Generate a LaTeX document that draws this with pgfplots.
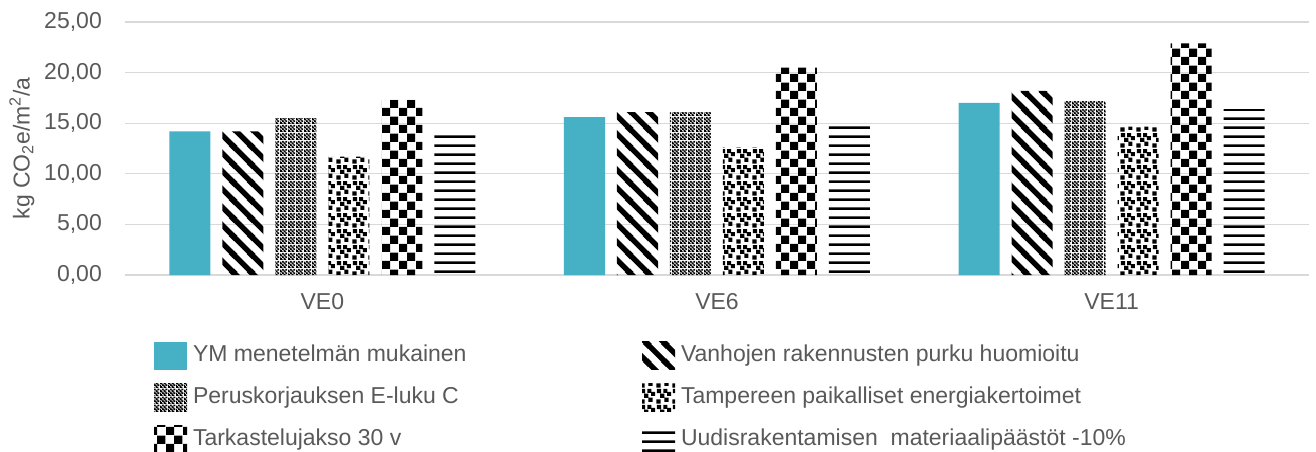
\documentclass[border=0pt]{standalone}
\usepackage{pgfplots}
\pgfplotsset{compat=1.18}
\usepackage{fontspec}
\setmainfont{Liberation Sans}
\usetikzlibrary{patterns}
\definecolor{txt}{HTML}{595959}
\definecolor{gridc}{HTML}{D9D9D9}
\definecolor{tealb}{HTML}{46B1C5}

\newcommand\sq[3]{\pgfpathrectangle{\pgfpoint{#1pt}{#2pt}}{\pgfpoint{#3pt}{#3pt}}}
% diagonal thick lines (top-left to bottom-right)
\pgfdeclarepatternformonly{mydiag}{\pgfqpoint{0pt}{0pt}}{\pgfqpoint{18pt}{18pt}}{\pgfqpoint{18pt}{18pt}}{%
  \pgfsetlinewidth{5.5pt}%
  \pgfpathmoveto{\pgfqpoint{-3pt}{21pt}}\pgfpathlineto{\pgfqpoint{21pt}{-3pt}}%
  \pgfpathmoveto{\pgfqpoint{-4pt}{4pt}}\pgfpathlineto{\pgfqpoint{4pt}{-4pt}}%
  \pgfpathmoveto{\pgfqpoint{14pt}{22pt}}\pgfpathlineto{\pgfqpoint{22pt}{14pt}}%
  \pgfusepath{stroke}}
% fine checkerboard (8x8 tile)
\pgfdeclarepatternformonly{mysmallcheck}{\pgfqpoint{0pt}{0pt}}{\pgfqpoint{8pt}{8pt}}{\pgfqpoint{8pt}{8pt}}{%
  \sq{0}{0}{2}\sq{2}{2}{2}\sq{2}{0}{1}\sq{0}{2}{1}%
  \sq{4}{0}{2}\sq{6}{2}{2}\sq{6}{0}{1}\sq{4}{2}{1}%
  \sq{0}{4}{2}\sq{2}{6}{2}\sq{2}{4}{1}\sq{0}{6}{1}%
  \sq{4}{4}{2}\sq{6}{6}{2}\sq{6}{4}{1}\sq{4}{6}{1}%
  \pgfusepath{fill}}
% confetti
\pgfdeclarepatternformonly{myconfetti}{\pgfqpoint{0pt}{0pt}}{\pgfqpoint{16pt}{16pt}}{\pgfqpoint{16pt}{16pt}}{%
  \sq{0.5}{0.5}{4.4}\sq{8.8}{2.2}{4.4}\sq{4.4}{6.4}{4.4}\sq{11.6}{8.4}{4.2}\sq{1}{11.4}{4.4}\sq{7.6}{11.6}{4.2}%
  \pgfusepath{fill}}
% large checkerboard
\pgfdeclarepatternformonly{mybigcheck}{\pgfqpoint{0pt}{0pt}}{\pgfqpoint{16.6pt}{16.6pt}}{\pgfqpoint{16.6pt}{16.6pt}}{%
  \sq{0}{0}{8.3}\sq{8.3}{8.3}{8.3}%
  \pgfusepath{fill}}
% horizontal lines
\pgfdeclarepatternformonly{myhlines}{\pgfqpoint{0pt}{0pt}}{\pgfqpoint{40pt}{8.5pt}}{\pgfqpoint{40pt}{8.5pt}}{%
  \pgfpathrectangle{\pgfqpoint{-1pt}{0pt}}{\pgfqpoint{42pt}{2.8pt}}%
  \pgfusepath{fill}}

\pgfplotsset{mybar/.style={draw=none, legend image code/.code={\fill[##1] (0pt,-14pt) rectangle (33pt,14pt);}}}

\begin{document}
\begin{tikzpicture}
\useasboundingbox (0,0) rectangle (1316pt,452pt);
\begin{axis}[
  at={(125pt,177pt)}, anchor=south west,
  scale only axis, width=1184pt, height=253pt,
  ybar, bar width=0.104,
  xmin=-0.5, xmax=2.5, ymin=0, ymax=25,
  xtick={0,1,2}, xticklabels={VE0,VE6,VE11},
  ytick={0,5,10,15,20,25},
  ymajorgrids, grid style={gridc, line width=1.2pt},
  axis line style={draw=none},
  major tick length=0pt,
  tick label style={font=\fontsize{23}{26}\selectfont, text=txt, inner sep=0pt},
  yticklabel style={xshift=-23pt, /pgf/number format/fixed, /pgf/number format/fixed zerofill, /pgf/number format/precision=2, /pgf/number format/use comma, /pgf/number format/assume math mode=true},
  xticklabel style={yshift=-18pt},
  every axis y label/.style={at={(axis description cs:-0.0871,0.5)}, rotate=90, anchor=center},
  ylabel={kg CO\textsubscript{2}e/m\textsuperscript{2}/a},
  label style={font=\fontsize{23}{26}\selectfont, text=txt},
  legend columns=2,
  legend cell align=left,
  legend style={at={(axis description cs:0.0245,-0.2648)}, anchor=north west, draw=none, fill=none,
    inner sep=0pt, outer sep=0pt, row sep=14pt, column sep=6pt,
    font=\fontsize{23}{26}\selectfont, text=txt,
    nodes={inner sep=0pt, text height=17pt, text depth=5pt}},
]
\addplot[mybar, fill=tealb, bar shift=-0.3357] coordinates {(0,14.2) (1,15.6) (2,17.0)};
\addlegendentry{\makebox[443pt][l]{YM menetelmän mukainen}}
\addplot[mybar, pattern=mydiag, bar shift=-0.2014] coordinates {(0,14.2) (1,16.1) (2,18.2)};
\addlegendentry{Vanhojen rakennusten purku huomioitu}
\addplot[mybar, pattern=mysmallcheck, bar shift=-0.0671] coordinates {(0,15.5) (1,16.1) (2,17.2)};
\addlegendentry{\makebox[443pt][l]{Peruskorjauksen E-luku C}}
\addplot[mybar, pattern=myconfetti, bar shift=0.0671] coordinates {(0,11.7) (1,12.6) (2,14.65)};
\addlegendentry{Tampereen paikalliset energiakertoimet}
\addplot[mybar, pattern=mybigcheck, bar shift=0.2014] coordinates {(0,17.3) (1,20.5) (2,22.9)};
\addlegendentry{\makebox[443pt][l]{Tarkastelujakso 30 v}}
\addplot[mybar, pattern=myhlines, bar shift=0.3357] coordinates {(0,14.1) (1,14.9) (2,16.4)};
\addlegendentry{Uudisrakentamisen\ \ materiaalipäästöt -10\%}
\end{axis}
\end{tikzpicture}
\end{document}
